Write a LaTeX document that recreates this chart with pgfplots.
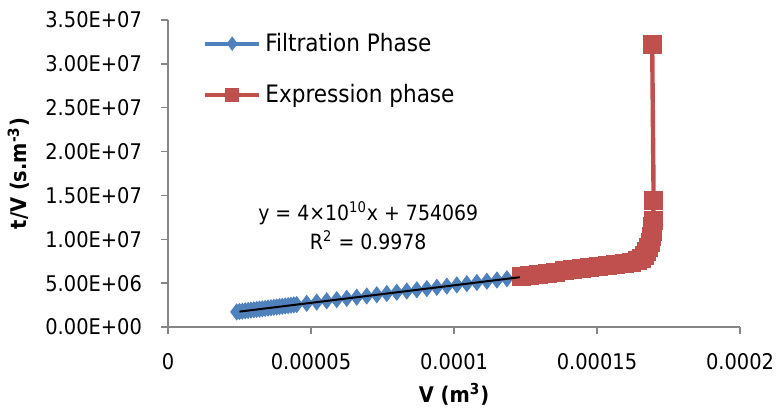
\documentclass[border=0pt]{standalone}
\usepackage{pgfplots}
\pgfplotsset{compat=1.18}
\usepackage{fontspec}
\setmainfont{DejaVu Sans Condensed}
\definecolor{exblue}{HTML}{4F81BD}
\definecolor{exred}{HTML}{C0504D}
\definecolor{axgray}{HTML}{868686}
\begin{document}
\begin{tikzpicture}
\useasboundingbox (-84pt,-42.5pt) rectangle (304.5pt,163.5pt);
\begin{axis}[
  at={(0pt,0pt)}, anchor=south west,
  scale only axis, width=286pt, height=153.5pt,
  xmin=0, xmax=0.0002, ymin=0, ymax=3.5e7,
  clip marker paths=true,
  axis lines=left,
  axis line style={-, draw=axgray, line width=0.7pt},
  tick align=outside, major tick length=3.5pt,
  tick style={draw=axgray, line width=0.7pt},
  scaled ticks=false,
  font=\fontsize{10.8}{12}\selectfont,
  xtick={0,0.00005,0.0001,0.00015,0.0002},
  xticklabels={0,0.00005,0.0001,0.00015,0.0002},
  ytick={0,5e6,1e7,1.5e7,2e7,2.5e7,3e7,3.5e7},
  yticklabels={0.00E+00,5.00E+06,1.00E+07,1.50E+07,2.00E+07,2.50E+07,3.00E+07,3.50E+07},
  xticklabel style={yshift=-6pt},
  yticklabel style={xshift=-6pt},
  xlabel={\bfseries V (m\textsuperscript{3})},
  ylabel={\bfseries t/V (s.m\textsuperscript{-3})},
  xlabel style={yshift=0pt},
  ylabel style={yshift=1pt},
  legend style={at={(0.05,0.985)}, anchor=north west, draw=none, fill=none,
    font=\fontsize{12}{13}\selectfont, row sep=11pt},
  legend cell align=left,
  legend image code/.code={\draw[mark repeat=2,mark phase=2, mark size=3.3pt] plot coordinates {(0pt,0pt) (13.5pt,0pt) (27pt,0pt)};},
]
\addplot[exblue, line width=2pt, mark=diamond*, mark size=4pt, mark options={solid, fill=exblue, draw=exblue, line width=0.4pt}] coordinates {
(2.4e-5,1.72e6) (2.5e-5,1.76e6) (2.6e-5,1.80e6) (2.7e-5,1.84e6) (2.8e-5,1.88e6)
(2.9e-5,1.92e6) (3.0e-5,1.96e6) (3.1e-5,2.00e6) (3.2e-5,2.04e6) (3.3e-5,2.08e6)
(3.4e-5,2.12e6) (3.5e-5,2.16e6) (3.6e-5,2.20e6) (3.7e-5,2.24e6) (3.8e-5,2.28e6)
(3.9e-5,2.32e6) (4.0e-5,2.36e6) (4.1e-5,2.40e6) (4.2e-5,2.44e6) (4.3e-5,2.48e6)
(4.4e-5,2.52e6) (4.5e-5,2.56e6)
(4.85e-5,2.70e6) (5.2e-5,2.84e6) (5.55e-5,2.98e6) (5.9e-5,3.12e6) (6.25e-5,3.26e6)
(6.6e-5,3.40e6) (6.95e-5,3.54e6) (7.3e-5,3.68e6) (7.65e-5,3.82e6) (8.0e-5,3.96e6)
(8.35e-5,4.10e6) (8.7e-5,4.24e6) (9.05e-5,4.38e6) (9.4e-5,4.52e6) (9.75e-5,4.66e6)
(1.01e-4,4.80e6) (1.045e-4,4.94e6) (1.08e-4,5.08e6) (1.115e-4,5.22e6) (1.15e-4,5.36e6)
(1.185e-4,5.50e6) (1.22e-4,5.64e6)
};
\addlegendentry{Filtration Phase}
\addplot[exred, line width=2.2pt, mark=square*, mark size=4.5pt, mark options={solid, fill=exred, draw=exred, line width=0.4pt}] coordinates {
(1.235e-4,5.72e6) (1.265e-4,5.86e6) (1.295e-4,6.00e6) (1.325e-4,6.14e6) (1.355e-4,6.28e6)
(1.385e-4,6.42e6) (1.415e-4,6.55e6) (1.445e-4,6.68e6) (1.475e-4,6.80e6) (1.505e-4,6.92e6)
(1.535e-4,7.02e6) (1.565e-4,7.12e6) (1.595e-4,7.22e6) (1.62e-4,7.35e6) (1.64e-4,7.55e6)
(1.655e-4,7.80e6) (1.665e-4,8.15e6) (1.673e-4,8.60e6) (1.68e-4,9.10e6) (1.685e-4,9.70e6)
(1.69e-4,1.03e7) (1.693e-4,1.09e7) (1.695e-4,1.15e7) (1.696e-4,1.22e7) (1.698e-4,1.44e7)
(1.693e-4,3.22e7)
};
\addlegendentry{Expression phase}
\addplot[black, line width=1pt, forget plot] coordinates {(2.5e-5,1754069) (1.23e-4,5674069)};
\node[font=\fontsize{10.5}{12}\selectfont] at (axis cs:7.0e-5,1.30e7) {y = 4×10\textsuperscript{10}x + 754069};
\node[font=\fontsize{10.5}{12}\selectfont] at (axis cs:7.0e-5,0.99e7) {R\textsuperscript{2} = 0.9978};
\end{axis}
\end{tikzpicture}
\end{document}
